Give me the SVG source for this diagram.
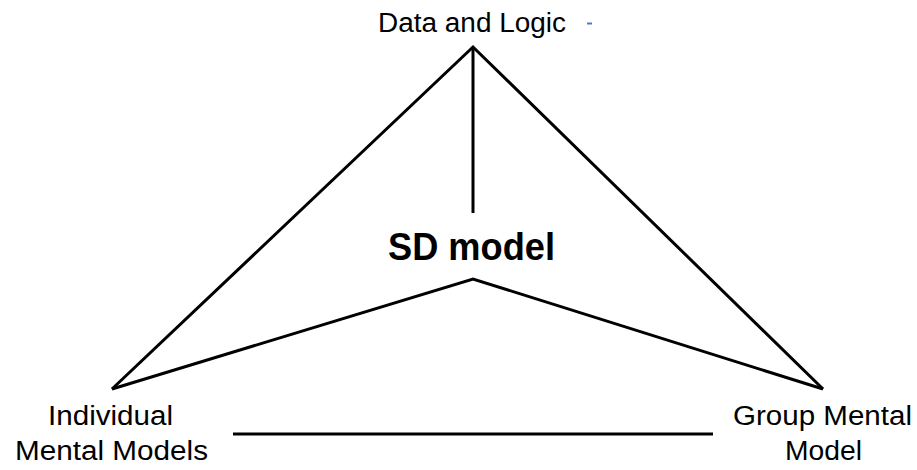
<svg xmlns="http://www.w3.org/2000/svg" width="917" height="470" viewBox="0 0 917 470">
<style>
.bg{fill:#ffffff}
.ln{stroke:#000;stroke-width:3;fill:none;stroke-linejoin:miter;stroke-linecap:butt}
.lbl{font-family:"Liberation Sans",Arial,sans-serif;font-size:27px;fill:#000;text-anchor:middle}
.big{font-family:"Liberation Sans",Arial,sans-serif;font-size:38px;font-weight:bold;fill:#000;text-anchor:middle}
</style>
<rect class="bg" x="0" y="0" width="917" height="470"/>
<g id="connectors">
<polyline class="ln" points="112,389 473,47 823,389"/>
<line class="ln" x1="473" y1="47" x2="473" y2="213"/>
<polyline class="ln" points="112,389 473,279 823,389"/>
<line class="ln" x1="233" y1="434" x2="713" y2="434"/>
</g>
<g id="data-and-logic">
<text class="lbl" x="472" y="32" textLength="188" lengthAdjust="spacingAndGlyphs">Data and Logic</text>
<line x1="587" y1="23.5" x2="592" y2="23.5" stroke="#4a7cc0" stroke-width="2"/>
</g>
<g id="sd-model">
<text class="big" x="471.5" y="260" textLength="167" lengthAdjust="spacingAndGlyphs">SD model</text>
</g>
<g id="individual-mental-models">
<text class="lbl" x="110.5" y="425" textLength="125" lengthAdjust="spacingAndGlyphs">Individual</text>
<text class="lbl" x="111.5" y="460" textLength="193" lengthAdjust="spacingAndGlyphs">Mental Models</text>
</g>
<g id="group-mental-model">
<text class="lbl" x="822.5" y="425" textLength="179" lengthAdjust="spacingAndGlyphs">Group Mental</text>
<text class="lbl" x="823.5" y="460" textLength="77" lengthAdjust="spacingAndGlyphs">Model</text>
</g>
</svg>
